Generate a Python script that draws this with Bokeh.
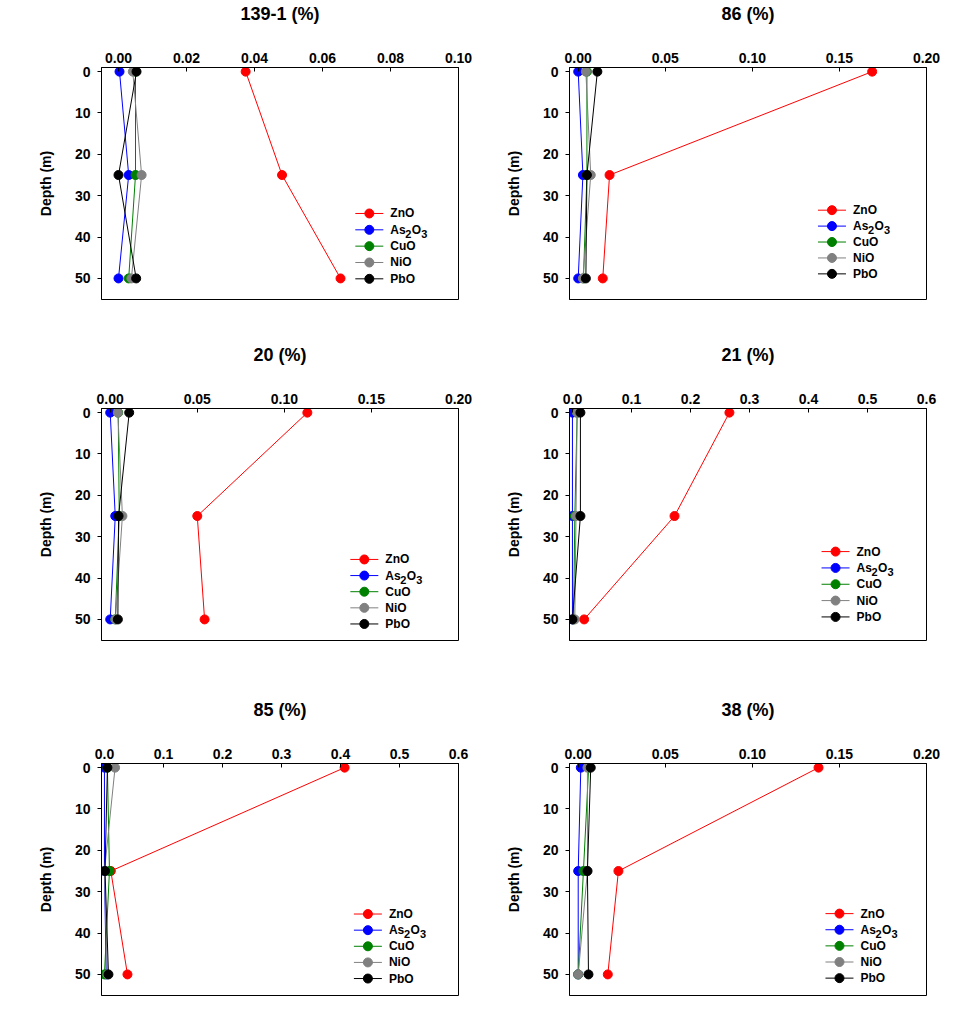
from bokeh.plotting import figure
from bokeh.layouts import column, row
from bokeh.models import Range1d, FixedTicker, PrintfTickFormatter
from bokeh.core.properties import value
from bokeh.embed import file_html
from bokeh.resources import INLINE

FONT = "Liberation Sans"

depth = [0, 25, 50]
species = ["ZnO", "As2O3", "CuO", "NiO", "PbO"]
colors = ["#ff0000", "#0000ff", "#008000", "#808080", "#000000"]
titles = ["139-1 (%)", "86 (%)", "20 (%)", "21 (%)", "85 (%)", "38 (%)"]

# values (%) at depths 0, 25, 50 m : ZnO, As2O3, CuO, NiO, PbO
s139_1 = [[0.0374, 0.0481, 0.0653],
          [0.0003, 0.0030, 0.0000],
          [0.0050, 0.0050, 0.0030],
          [0.0042, 0.0068, 0.0038],
          [0.0053, 0.0000, 0.0052]]
s86 = [[0.1688, 0.0180, 0.0141],
       [0.0000, 0.0027, 0.0000],
       [0.0050, 0.0050, 0.0030],
       [0.0044, 0.0072, 0.0027],
       [0.0110, 0.0050, 0.0044]]
s20 = [[0.1132, 0.0500, 0.0542],
       [0.0000, 0.0029, 0.0000],
       [0.0046, 0.0052, 0.0029],
       [0.0044, 0.0070, 0.0030],
       [0.0109, 0.0048, 0.0044]]
s21 = [[0.266, 0.173, 0.0198],
       [0.000, 0.000, 0.000],
       [0.008, 0.004, 0.002],
       [0.008, 0.006, 0.004],
       [0.0135, 0.0135, 0.000]]
s85 = [[0.407, 0.0108, 0.039],
       [0.000, 0.000, 0.003],
       [0.005, 0.0085, 0.000],
       [0.018, 0.000, 0.005],
       [0.005, 0.001, 0.0068]]
s38 = [[0.138, 0.0231, 0.017],
       [0.0015, 0.000, 0.000],
       [0.006, 0.003, 0.000],
       [0.0053, 0.0053, 0.000],
       [0.0072, 0.0053, 0.0059]]
panels = [s139_1, s86, s20, s21, s85, s38]

x_max = [0.10, 0.20, 0.20, 0.6, 0.6, 0.20]
x_step = [0.02, 0.05, 0.05, 0.1, 0.1, 0.05]
x_fmt = ["%.2f", "%.2f", "%.2f", "%.1f", "%.1f", "%.2f"]
y_ticks = [0, 10, 20, 30, 40, 50]

# legend placement: fraction of frame width, depth of first row, row step
leg_pos = [(0.711, 34.3, 3.95), (0.696, 33.5, 3.85), (0.697, 35.5, 3.9),
           (0.706, 33.6, 3.95), (0.707, 35.4, 3.9), (0.717, 35.3, 3.9)]

FW, FH = 357, 232
X0 = -0.005


def make_panel(i):
    left_col = (i % 2 == 0)
    r = i // 2
    top = [67, 68, 67][r]
    bottom = [41, 56, 10][r]
    p = figure(frame_width=FW, frame_height=FH,
               min_border_left=101 if left_col else 81,
               min_border_right=30 if left_col else 42,
               min_border_top=top, min_border_bottom=bottom,
               x_range=Range1d(X0, x_max[i]), y_range=Range1d(55.1, -1),
               x_axis_location="above", output_backend="svg",
               toolbar_location=None, title=titles[i])
    p.title.align = "center"
    p.title.vertical_align = "bottom"
    p.title.text_font = FONT
    p.title.text_font_size = "18px"
    p.title.text_font_style = "bold"
    p.title.text_color = "black"
    p.title.standoff = 0
    p.grid.visible = False
    p.outline_line_color = "black"
    p.outline_line_alpha = 1
    p.background_fill_color = "white"
    p.border_fill_color = "white"

    n = int(round(x_max[i] / x_step[i]))
    xt = [round(k * x_step[i], 4) for k in range(n + 1)]
    xa = p.xaxis[0]
    xa.ticker = FixedTicker(ticks=xt)
    xa.formatter = PrintfTickFormatter(format=x_fmt[i])
    xa.major_tick_in = 4
    xa.major_tick_out = 0
    xa.minor_tick_line_color = None
    xa.major_label_standoff = 5
    xa.major_label_text_font = FONT
    xa.major_label_text_font_style = "bold"
    xa.major_label_text_font_size = "14px"
    xa.major_label_text_color = "black"
    xa.axis_line_color = "black"
    xa.major_tick_line_color = "black"
    # blank axis label used only as vertical spacing between ticks and title
    xa.axis_label = " "
    xa.axis_label_text_font_size = "14px"
    xa.axis_label_standoff = 7

    ya = p.yaxis[0]
    ya.ticker = FixedTicker(ticks=y_ticks)
    ya.major_tick_in = 0
    ya.major_tick_out = 4
    ya.minor_tick_line_color = None
    ya.major_label_standoff = 7
    ya.major_label_text_font = FONT
    ya.major_label_text_font_style = "bold"
    ya.major_label_text_font_size = "14px"
    ya.major_label_text_color = "black"
    ya.axis_line_color = "black"
    ya.major_tick_line_color = "black"
    ya.axis_label = "Depth (m)"
    ya.axis_label_text_font = FONT
    ya.axis_label_text_font_style = "bold"
    ya.axis_label_text_font_size = "14px"
    ya.axis_label_text_color = "black"
    ya.axis_label_standoff = 18

    data = panels[i]
    for vals, c in zip(data, colors):
        p.line(vals, depth, line_color=c, line_width=1)
        p.scatter(vals, depth, marker="circle", size=9, fill_color=c,
                  line_color=c)

    # legend
    frac, d0, step = leg_pos[i]
    span = x_max[i] - X0
    dpp = span / FW
    lx0 = X0 + frac * span
    for k, (name, c) in enumerate(zip(species, colors)):
        yk = d0 + k * step
        p.line([lx0, lx0 + 28 * dpp], [yk, yk], line_color=c, line_width=1)
        p.scatter([lx0 + 14 * dpp], [yk], marker="circle", size=9,
                  fill_color=c, line_color=c)
        tx = lx0 + 35 * dpp
        common = dict(text_font=value(FONT), text_font_style="bold",
                      text_baseline="middle", text_align="left",
                      text_color="black")
        if name == "As2O3":
            p.text([tx], [yk], text=["As"], text_font_size="12px", **common)
            p.text([tx], [yk], text=["2"], text_font_size="11px",
                   x_offset=15, y_offset=4, **common)
            p.text([tx], [yk], text=["O"], text_font_size="12px",
                   x_offset=21.5, **common)
            p.text([tx], [yk], text=["3"], text_font_size="11px",
                   x_offset=31, y_offset=4, **common)
        else:
            p.text([tx], [yk], text=[name], text_font_size="12px", **common)
    return p


figs = [make_panel(i) for i in range(6)]
layout = column(row(figs[0], figs[1]), row(figs[2], figs[3]),
                row(figs[4], figs[5]))

open("out.html", "w").write(file_html(layout, INLINE))
